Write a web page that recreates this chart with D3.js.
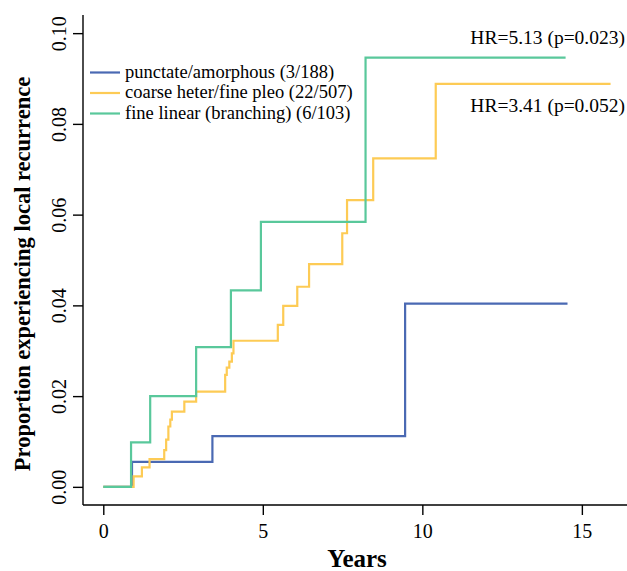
<!DOCTYPE html>
<html>
<head>
<meta charset="utf-8">
<script src="https://cdn.jsdelivr.net/npm/d3@7"></script>
<style>
  body { margin: 0; background: #fff; }
  svg { display: block; }
</style>
</head>
<body>
<svg id="chart" width="627" height="571"></svg>
<script>
// ---- data ----
const seriesNames = ["punctate/amorphous (3/188)", "coarse heter/fine pleo (22/507)", "fine linear (branching) (6/103)"];
const seriesColors = ["#4A69B3", "#FDCB55", "#59C89B"];

const blueTimes  = [0, 0.90, 3.42, 9.46, 14.55];
const blueValues = [0, 0.0055, 0.0112, 0.0404, 0.0404];

const yellowTimes  = [0, 0.95, 1.21, 1.45, 1.91, 1.97, 2.04, 2.10, 2.15, 2.54, 2.91, 3.82, 3.87, 3.95, 4.03, 4.08, 5.47, 5.64, 6.08, 6.45, 7.49, 7.64, 8.46, 10.42, 15.9];
const yellowValues = [0, 0.0023, 0.0043, 0.0061, 0.0081, 0.0104, 0.0133, 0.0148, 0.0166, 0.0188, 0.0210, 0.0247, 0.0263, 0.0276, 0.0294, 0.0322, 0.0357, 0.0399, 0.0441, 0.0491, 0.0559, 0.0632, 0.0724, 0.0888, 0.0888];

const greenTimes  = [0, 0.87, 1.47, 2.91, 4.00, 4.94, 8.22, 14.49];
const greenValues = [0, 0.0098, 0.0200, 0.0308, 0.0433, 0.0584, 0.0946, 0.0946];

const xTicks = [0, 5, 10, 15];
const yTicks = [0, 0.02, 0.04, 0.06, 0.08, 0.10];
const hrLabels = ["HR=5.13 (p=0.023)", "HR=3.41 (p=0.052)"];
const hrValues = [0.0946, 0.0888];

const xTitle = "Years";
const yTitle = "Proportion experiencing local recurrence";

(function () {
// ---- layout ----
const svg = d3.select("#chart");
const font = "'Liberation Serif', 'Times New Roman', serif";
const pLeft = 83, pRight = 631, pTop = 15, pBottom = 505;

const x = d3.scaleLinear().domain([-0.636, 16.54]).range([pLeft, pRight]);
const y = d3.scaleLinear().domain([-0.004, 0.104]).range([pBottom, pTop]);

// axes (L-shaped box)
svg.append("line").attr("x1", pLeft).attr("x2", pLeft).attr("y1", pTop).attr("y2", pBottom)
  .attr("stroke", "#000").attr("stroke-width", 1.4);
svg.append("line").attr("x1", pLeft).attr("x2", 627).attr("y1", pBottom).attr("y2", pBottom)
  .attr("stroke", "#000").attr("stroke-width", 1.4);

const xAxis = d3.axisBottom(x).tickValues(xTicks).tickFormat(d3.format("d")).tickSize(10);
const gx = svg.append("g").attr("transform", `translate(0,${pBottom})`).call(xAxis);
gx.select(".domain").remove();
gx.selectAll(".tick line").attr("stroke", "#000").attr("stroke-width", 1.4);
gx.selectAll(".tick text").attr("font-family", font).attr("font-size", 20).attr("fill", "#000")
  .attr("y", 33).attr("dy", 0);

const yAxis = d3.axisLeft(y).tickValues(yTicks).tickFormat(d3.format(".2f")).tickSize(10);
const gy = svg.append("g").attr("transform", `translate(${pLeft},0)`).call(yAxis);
gy.select(".domain").remove();
gy.selectAll(".tick line").attr("stroke", "#000").attr("stroke-width", 1.4);
gy.selectAll(".tick text")
  .attr("font-family", font).attr("font-size", 20).attr("fill", "#000")
  .attr("text-anchor", "middle").attr("x", 0).attr("dy", 0)
  .attr("transform", "translate(-17,0) rotate(-90)");

// titles
svg.append("text").attr("x", (pLeft + pRight) / 2).attr("y", 567)
  .attr("text-anchor", "middle").attr("font-family", font).attr("font-weight", "bold")
  .attr("font-size", 25).text(xTitle);
svg.append("text").attr("transform", `translate(30,274) rotate(-90)`)
  .attr("text-anchor", "middle").attr("font-family", font).attr("font-weight", "bold")
  .attr("font-size", 22.5).text(yTitle);

// curves
const line = d3.line().x(d => x(d[0])).y(d => y(d[1])).curve(d3.curveStepAfter);
const series = [
  d3.zip(blueTimes, blueValues),
  d3.zip(yellowTimes, yellowValues),
  d3.zip(greenTimes, greenValues)
];
series.forEach((s, i) => {
  svg.append("path").datum(s).attr("d", line)
    .attr("fill", "none").attr("stroke", seriesColors[i]).attr("stroke-width", 2.2);
});

// legend
const legY = [72.5, 93, 113.5];
seriesNames.forEach((name, i) => {
  svg.append("line").attr("x1", 90).attr("x2", 120).attr("y1", legY[i]).attr("y2", legY[i])
    .attr("stroke", seriesColors[i]).attr("stroke-width", 2.2);
  svg.append("text").attr("x", 125).attr("y", legY[i] + 5)
    .attr("font-family", font).attr("font-size", 18.5).text(name);
});

// HR annotations
svg.append("text").attr("x", 625).attr("y", y(hrValues[0]) - 13.5).attr("text-anchor", "end")
  .attr("font-family", font).attr("font-size", 19.5).text(hrLabels[0]);
svg.append("text").attr("x", 625).attr("y", y(hrValues[1]) + 28).attr("text-anchor", "end")
  .attr("font-family", font).attr("font-size", 19.5).text(hrLabels[1]);
})();
</script>
</body>
</html>
